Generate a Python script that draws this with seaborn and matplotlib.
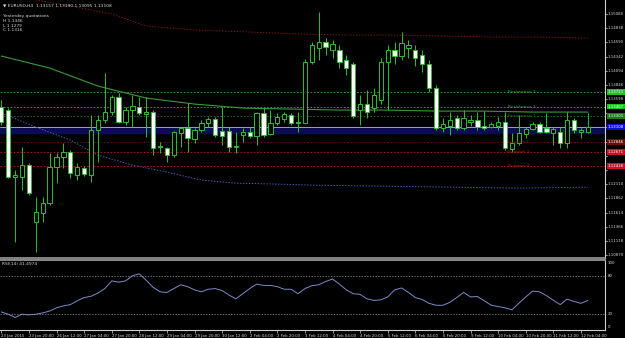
import numpy as np
import pandas as pd
import matplotlib
matplotlib.use('Agg')
import matplotlib.pyplot as plt
import matplotlib.transforms as mtransforms
import seaborn as sns

# EURUSD H4 candles
opens = [1.13458, 1.13406, 1.12233, 1.12233, 1.12443, 1.11446, 1.11603, 1.11778, 1.12408, 1.12583,
         1.12671, 1.12268, 1.12391, 1.12268, 1.13056, 1.13231, 1.13371, 1.13633, 1.13196, 1.13406,
         1.13458, 1.13336, 1.13371, 1.12758, 1.12741, 1.12618, 1.13003, 1.13091, 1.12898, 1.13056,
         1.13178, 1.13248, 1.13038, 1.13038, 1.12758, 1.12968, 1.13021, 1.12951, 1.13353, 1.12986,
         1.13178, 1.13248, 1.13318, 1.13178, 1.13178, 1.14246, 1.14491, 1.14596, 1.14456, 1.14456,
         1.14281, 1.14211, 1.13406, 1.13511, 1.13441, 1.13581, 1.14246, 1.14456, 1.14351, 1.14491,
         1.14456, 1.14368, 1.14211, 1.13791, 1.13091, 1.13126, 1.13266, 1.13091, 1.13196, 1.13231,
         1.13126, 1.13108, 1.13126, 1.13196, 1.12723, 1.12828, 1.12986, 1.13073, 1.13161, 1.13091,
         1.13003, 1.13021, 1.12828, 1.13231, 1.13021, 1.13021]
highs = [1.13581, 1.13441, 1.12356, 1.12758, 1.12478, 1.11883, 1.11883, 1.12653, 1.12653, 1.12828,
         1.12706, 1.12478, 1.12426, 1.13318, 1.13318, 1.14053, 1.13668, 1.13703, 1.13458, 1.13668,
         1.13633, 1.13633, 1.13406, 1.12846, 1.12758, 1.13038, 1.13108, 1.13528, 1.13091, 1.13231,
         1.13283, 1.13283, 1.13458, 1.13108, 1.13021, 1.13091, 1.13108, 1.13371, 1.13441, 1.13406,
         1.13353, 1.13371, 1.13353, 1.13371, 1.14298, 1.14596, 1.15121, 1.14666, 1.14631, 1.14543,
         1.14368, 1.14246, 1.13668, 1.13756, 1.13791, 1.14316, 1.14543, 1.14596, 1.14771, 1.14631,
         1.14543, 1.14456, 1.14281, 1.13843, 1.13266, 1.13371, 1.13318, 1.13406, 1.13318, 1.13371,
         1.13388, 1.13196, 1.13283, 1.13371, 1.13003, 1.13318, 1.13108, 1.13196, 1.13196, 1.13353,
         1.13108, 1.13108, 1.13371, 1.13266, 1.13091, 1.13353]
lows = [1.13143, 1.12216, 1.11096, 1.12006, 1.11918, 1.10921, 1.11446, 1.11743, 1.12128, 1.12391,
        1.12216, 1.12181, 1.12251, 1.12146, 1.12496, 1.13178, 1.13318, 1.13178, 1.13143, 1.13108,
        1.13318, 1.12933, 1.12618, 1.12653, 1.12496, 1.12583, 1.12758, 1.12671, 1.12828, 1.13021,
        1.13108, 1.12933, 1.12793, 1.12671, 1.12653, 1.12846, 1.12916, 1.12793, 1.12933, 1.12968,
        1.13143, 1.13196, 1.13143, 1.13021, 1.13161, 1.14211, 1.14281, 1.14368, 1.14316, 1.14141,
        1.14018, 1.13266, 1.13143, 1.13266, 1.13371, 1.13511, 1.13406, 1.14211, 1.14281, 1.14316,
        1.14176, 1.14071, 1.13721, 1.13056, 1.13021, 1.12968, 1.13056, 1.13056, 1.13126, 1.13056,
        1.13056, 1.13091, 1.13056, 1.12706, 1.12671, 1.12793, 1.12916, 1.13056, 1.13003, 1.13003,
        1.12793, 1.12741, 1.12741, 1.13003, 1.12916, 1.13003]
closes = [1.13196, 1.12233, 1.12268, 1.12443, 1.11953, 1.11621, 1.11778, 1.12408, 1.12583, 1.12671,
          1.12303, 1.12408, 1.12286, 1.13056, 1.13231, 1.13371, 1.13633, 1.13196, 1.13406, 1.13476,
          1.13353, 1.13371, 1.12741, 1.12776, 1.12618, 1.13021, 1.13091, 1.12916, 1.13056, 1.13178,
          1.13248, 1.12968, 1.12951, 1.12758, 1.12776, 1.13021, 1.12951, 1.13353, 1.12968, 1.13178,
          1.13283, 1.13336, 1.13178, 1.13196, 1.14246, 1.14543, 1.14596, 1.14508, 1.14561, 1.14246,
          1.14141, 1.13301, 1.13511, 1.13371, 1.13668, 1.14246, 1.14456, 1.14351, 1.14578, 1.14543,
          1.14316, 1.14211, 1.13791, 1.13091, 1.13161, 1.13231, 1.13091, 1.13266, 1.13231, 1.13108,
          1.13091, 1.13161, 1.13196, 1.12741, 1.12828, 1.13003, 1.13073, 1.13161, 1.13021, 1.13021,
          1.13073, 1.12828, 1.13231, 1.13056, 1.13056, 1.13108]

rsi = [23.5, 20, 15, 20, 19, 20, 22, 25, 30, 33, 35, 41, 46, 48, 53, 60, 72, 70, 72, 80,
       83, 73, 62, 55, 54, 60, 66, 63, 58, 55, 59, 60, 57, 50, 44, 52, 60, 67, 65, 65,
       63, 59, 59, 52, 60, 64.6, 66, 71, 75, 67, 58, 52, 51, 44, 41.5, 42.5, 47, 58, 61, 54,
       46, 43, 37, 34, 34, 38.5, 46, 54, 47, 47.6, 41, 34, 32, 30, 27, 37, 47, 56, 55, 49,
       42, 35, 43.6, 40, 37, 41.5]

# moving average and envelope, read at some bars
ma_bars = [0, 7, 14, 21, 28, 35, 42, 49, 56, 63, 70, 77, 85]
ma_vals = [1.14351, 1.14141, 1.13826, 1.13616, 1.13511, 1.13441, 1.13423, 1.13406, 1.13406,
           1.13388, 1.13388, 1.13371, 1.13371]
up_bars = [5, 10, 16, 21, 28, 36, 43, 50, 57, 64, 71, 78, 85]
up_vals = [1.15331, 1.15226, 1.15086, 1.14876, 1.14806, 1.14771, 1.14736, 1.14718, 1.14718,
           1.14701, 1.14683, 1.14683, 1.14666]
lo_bars = [0, 5, 10, 14, 19, 24, 29, 34, 40, 45, 55, 65, 75, 85]
lo_vals = [1.13353, 1.13108, 1.12881, 1.12618, 1.12443, 1.12321, 1.12181, 1.12128, 1.12111,
           1.12093, 1.12076, 1.12058, 1.12041, 1.12058]

level_names = ['Resistance 3', 'Resistance 2', 'Resistance 1', 'Support 1', 'Support 2', 'Support 3']
level_vals = [1.13721, 1.13467, 1.13301, 1.12846, 1.12671, 1.12426]
level_cols = ['#3faa3f', '#3faa3f', '#2a6e2a', '#7a1515', '#c01a1a', '#c01a1a']
level_box = ['#1fc21f', '#1fc21f', '#1d7a1d', '#6e0c0c', '#c8141e', '#c8141e']

price_ticks = [1.10870, 1.11118, 1.11366, 1.11614, 1.11862, 1.12110, 1.12358, 1.12606, 1.12854,
               1.13102, 1.13350, 1.13598, 1.13846, 1.14094, 1.14342, 1.14590, 1.14838, 1.15086]
time_labels = ['23 Jan 2015', '23 Jan 20:00', '26 Jan 12:00', '27 Jan 04:00', '27 Jan 20:00',
               '28 Jan 12:00', '29 Jan 04:00', '29 Jan 20:00', '30 Jan 12:00', '2 Feb 04:00',
               '2 Feb 20:00', '3 Feb 12:00', '4 Feb 04:00', '4 Feb 20:00', '5 Feb 12:00',
               '6 Feb 04:00', '6 Feb 20:00', '9 Feb 12:00', '10 Feb 04:00', '10 Feb 20:00',
               '11 Feb 12:00', '12 Feb 04:00']

sns.set_theme(style='dark', rc={'axes.facecolor': 'black', 'figure.facecolor': 'black'})
plt.rcParams['font.family'] = ['DejaVu Sans']

df = pd.DataFrame({'open': opens, 'high': highs, 'low': lows, 'close': closes, 'rsi': rsi})
df['bar'] = np.arange(len(df))
green = '#2fbf2f'
fs = 3.2
afs = 2.8
txtc = '#d8d8d8'

fig = plt.figure(figsize=(6.25, 3.38), dpi=100, facecolor='black')
ax = fig.add_axes([0, 0.2367, 0.968, 0.7633])
ax2 = fig.add_axes([0, 0.0237, 0.968, 0.207])
for a in (ax, ax2):
    a.set_facecolor('black')
    a.set_xlim(-0.19, 87.49)
    a.grid(False)
    for s in a.spines.values():
        s.set_visible(False)
    a.spines['right'].set_visible(True)
    a.spines['right'].set_color('#cfcfcf')
    a.spines['right'].set_linewidth(0.8)
ax.set_ylim(1.10819, 1.15331)
ax.spines['bottom'].set_visible(True)
ax.spines['bottom'].set_color('#9a9a9a')
ax.spines['bottom'].set_linewidth(1.2)
ax2.spines['top'].set_visible(True)
ax2.spines['top'].set_color('#9a9a9a')
ax2.spines['bottom'].set_visible(True)
ax2.spines['bottom'].set_color('#cfcfcf')
ax2.spines['bottom'].set_linewidth(0.8)

# level lines
bid = closes[-1]
ax.axhspan(bid - 0.0011, bid, color='#0c0c55', zorder=0)
ax.axhline(bid, color='#b8b8c8', lw=0.6, zorder=1)
for name, v, c in zip(level_names, level_vals, level_cols):
    ax.axhline(v, color=c, lw=0.6, ls=(0, (2, 2)), zorder=1)
    ax.text(73.5, v, name, color=c, fontsize=fs, va='center', ha='left', zorder=5)

# indicator lines
sns.lineplot(x=ma_bars, y=ma_vals, ax=ax, color='#3a9a3a', lw=0.8, zorder=2)
sns.lineplot(x=up_bars, y=up_vals, ax=ax, color='#7a1818', lw=0.7, ls=(0, (1.5, 1.5)), zorder=2)
sns.lineplot(x=lo_bars, y=lo_vals, ax=ax, color='#4a5ab0', lw=0.7, ls=(0, (1.5, 1.5)), zorder=2)

# candles
upc = df['close'] >= df['open']
ax.vlines(df['bar'], df['low'], df['high'], color=green, lw=0.7, zorder=3)
bu = df[upc]
bd = df[~upc]
ax.bar(bu['bar'], bu['close'] - bu['open'], bottom=bu['open'], width=0.62,
       color='black', edgecolor=green, linewidth=0.7, zorder=4)
ax.bar(bd['bar'], bd['open'] - bd['close'], bottom=bd['close'], width=0.62,
       color='white', edgecolor=green, linewidth=0.6, zorder=4)

# right price axis
ax.set_xticks([])
ax.set_yticks([])
trans = mtransforms.blended_transform_factory(ax.transAxes, ax.transData)
boxed = level_vals + [bid]
for p in price_ticks:
    ax.plot([1.0, 1.004], [p, p], color='#cfcfcf', lw=0.5, transform=trans, clip_on=False)
    if min(abs(p - b) for b in boxed) < 0.0009:
        continue
    ax.text(1.005, p, f'{p:.5f}', color=txtc, fontsize=afs, va='center', ha='left',
            transform=trans, clip_on=False)
for v, bc in zip(level_vals, level_box):
    ax.text(1.005, v, f'{v:.5f}', color='white', fontsize=afs, va='center', ha='left',
            transform=trans, clip_on=False, zorder=6,
            bbox=dict(boxstyle='square,pad=0.2', fc=bc, ec='none'))
ax.text(1.005, bid, f'{bid:.5f}', color='white', fontsize=afs, va='center', ha='left',
        transform=trans, clip_on=False, zorder=6,
        bbox=dict(boxstyle='square,pad=0.2', fc='#1010d0', ec='none'))

# header texts
ax.text(0.005, 0.985, '\u25bc EURUSD,H4  1.13157 1.13190 1.13095 1.13108', color=txtc,
        fontsize=fs, transform=ax.transAxes, va='top', ha='left')
ax.text(0.005, 0.945, 'Yesterday quotations\nH 1.1346\nL 1.1279\nC 1.1316', color=txtc,
        fontsize=fs, transform=ax.transAxes, va='top', ha='left', linespacing=1.25)

# RSI panel
ax2.set_ylim(-4.6, 104.6)
sns.lineplot(data=df, x='bar', y='rsi', ax=ax2, color='#7d8cc8', lw=0.7)
for lvl in (80, 20):
    ax2.axhline(lvl, color='#9a9a9a', lw=0.5, ls=(0, (2, 2)))
ax2.set_yticks([])
ax2.set_ylabel('')
ax2.set_xlabel('')
trans2 = mtransforms.blended_transform_factory(ax2.transAxes, ax2.transData)
for lvl in (100, 80, 20, 0):
    ax2.text(1.005, lvl, str(lvl), color=txtc, fontsize=afs, va='center', ha='left',
             transform=trans2, clip_on=False)
ax2.text(0.004, 0.97, f'RSI(14) {41.4974:.4f}', color=txtc, fontsize=fs,
         transform=ax2.transAxes, va='top', ha='left')
ax.set_xlabel('')
ax.set_ylabel('')

tick_bars = np.arange(0, 4 * len(time_labels), 4)
ax2.set_xticks(tick_bars)
ax2.set_xticklabels(time_labels, fontsize=afs, color=txtc, ha='left')
ax2.tick_params(axis='x', length=2, width=0.5, color='#cfcfcf', pad=0.8, bottom=True)

fig.savefig('out.png', dpi=100, facecolor='black')
